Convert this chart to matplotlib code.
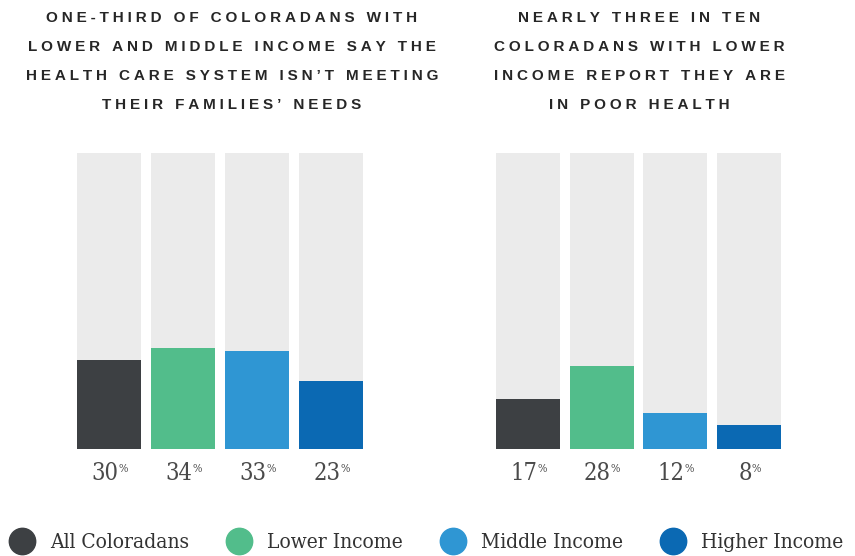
import matplotlib
matplotlib.use("Agg")
import matplotlib.pyplot as plt
from matplotlib import font_manager as fm
from matplotlib.lines import Line2D

# data
groups = ["All Coloradans", "Lower Income", "Middle Income", "Higher Income"]
colors = ["#3d4043", "#52bd8b", "#2f96d3", "#0b69b3"]
care_not_meeting = [30, 34, 33, 23]
poor_health = [17, 28, 12, 8]
title_left = ["ONE-THIRD OF COLORADANS WITH",
              "LOWER AND MIDDLE INCOME SAY THE",
              "HEALTH CARE SYSTEM ISN\u2019T MEETING",
              "THEIR FAMILIES\u2019 NEEDS"]
title_right = ["NEARLY THREE IN TEN",
               "COLORADANS WITH LOWER",
               "INCOME REPORT THEY ARE",
               "IN POOR HEALTH"]

W, H = 855, 556
bg_color = "#ebebeb"
num_color = "#4a4a4a"

# pick a slab-ish serif; condensed DejaVu if it is there
cond = [f for f in fm.fontManager.ttflist
        if f.name.startswith("DejaVu Serif") and "ondensed" in (f.fname + str(f.stretch))
        and f.weight in (400, "normal")]
if cond:
    serif = dict(family=cond[0].name, stretch="condensed")
else:
    serif = dict(family="Liberation Serif")

fig = plt.figure(figsize=(W / 100, H / 100), dpi=100)


def px_axes(l, t, r, b):
    return fig.add_axes([l / W, 1 - b / H, (r - l) / W, (b - t) / H])


def spaced(s, gap="\u2005"):
    return gap.join(s)


def draw_panel(ax, values):
    x = range(len(values))
    w = 64 / 74
    ax.bar(x, [100] * len(values), w, color=bg_color)
    ax.bar(x, values, w, color=colors)
    ax.set_xlim(-w / 2, len(values) - 1 + w / 2)
    ax.set_ylim(0, 100)
    ax.axis("off")
    texts = []
    for i, v in enumerate(values):
        t = ax.annotate(str(v), (i, 0), xytext=(-3, -18), textcoords="offset points",
                        ha="center", va="center", fontsize=17, color=num_color,
                        annotation_clip=False, **serif)
        texts.append(t)
    return texts


ax1 = px_axes(77, 153, 363, 449)
ax2 = px_axes(496, 153, 781, 449)
nums = draw_panel(ax1, care_not_meeting) + draw_panel(ax2, poor_health)

for lines, cx in [(title_left, 232), (title_right, 639)]:
    for k, line in enumerate(lines):
        fig.text(cx / W, 1 - (18 + 29 * k) / H, spaced(line), ha="center", va="center",
                 fontsize=11, fontweight="bold", color="#262626",
                 family=["Liberation Sans", "DejaVu Sans"])

handles = [Line2D([], [], marker="o", ls="", markersize=19, color=c) for c in colors]
fig.legend(handles, groups, loc="center", bbox_to_anchor=(0.5, 1 - 543 / H), ncol=4,
           frameon=False, handlelength=1.0, handletextpad=0.85, columnspacing=1.9,
           prop=dict(size=15, **serif), labelcolor="#333333",
           borderpad=0, borderaxespad=0)

# small raised percent signs after each number
fig.canvas.draw()
r = fig.canvas.get_renderer()
for t in nums:
    bb = t.get_window_extent(r)
    fig.text(bb.x1 / W, (bb.y1 - 1) / H, "%", ha="left", va="top",
             fontsize=8, color=num_color, **serif)

fig.savefig("out.png", dpi=100, facecolor="white")
